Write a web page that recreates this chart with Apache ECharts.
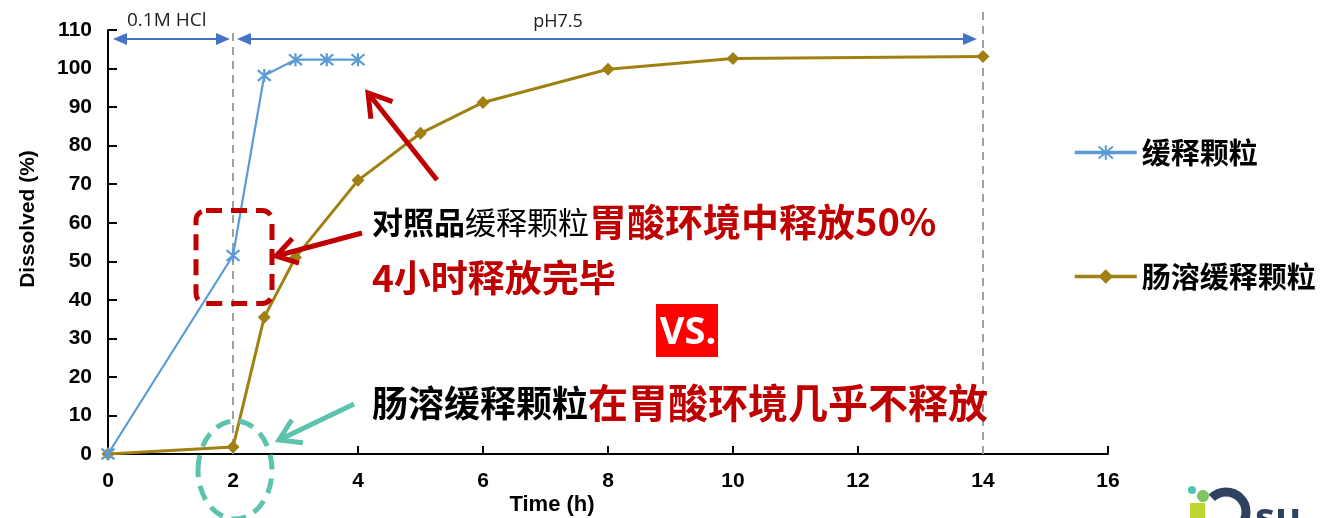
<!DOCTYPE html>
<html>
<head>
<meta charset="utf-8">
<script src="https://cdn.jsdelivr.net/npm/echarts@6/dist/echarts.min.js"></script>
<style>
html,body{margin:0;padding:0;background:#fff;}
#main{width:1322px;height:518px;}
</style>
</head>
<body>
<div id="main"></div>
<script>
// ---- data ----
const seriesNames = ['缓释颗粒', '肠溶缓释颗粒'];
const timeRef = [0, 2, 2.5, 3, 3.5, 4];
const dissolvedRef = [0, 51.5, 98.2, 102.3, 102.3, 102.3];
const timeEnteric = [0, 2, 2.5, 3, 4, 5, 6, 8, 10, 14];
const dissolvedEnteric = [0, 1.8, 35.5, 51, 71, 83.2, 91.2, 99.8, 102.6, 103.1];
const xTicks = [0, 2, 4, 6, 8, 10, 12, 14, 16];
const yTicks = [0, 10, 20, 30, 40, 50, 60, 70, 80, 90, 100, 110];
const phaseBoundaries = [2, 14];
const phaseLabels = ['0.1M HCl', 'pH7.5'];

const BLUE = '#5B9BD5', GOLD = '#A08010', RED = '#C00000', TEAL = '#5CC3AC', ARROW_BLUE = '#4472C4';
const CJK = '"Noto Sans CJK SC", sans-serif';
const LAT = '"Liberation Sans", Arial, sans-serif';

const chart = echarts.init(document.getElementById('main'), null, {renderer: 'canvas'});

const pair = (xs, ys) => xs.map((x, i) => [x, ys[i]]);

const legendCommon = {orient: 'vertical', itemWidth: 62, itemHeight: 18,
  lineStyle: {width: 3.5},
  textStyle: {fontFamily: CJK, fontWeight: 'bold', fontSize: 29, color: '#000'}};

const option = {
  animation: false,
  backgroundColor: '#fff',
  grid: {left: 108, right: 214, top: 30, bottom: 64, containLabel: false},
  xAxis: {
    type: 'value', min: xTicks[0], max: xTicks[xTicks.length - 1], interval: 2,
    axisLine: {show: true, onZero: false, lineStyle: {color: '#000', width: 2}},
    axisTick: {show: true, inside: true, length: 8, lineStyle: {color: '#000', width: 2}},
    splitLine: {show: false},
    axisLabel: {margin: 17, color: '#000', fontFamily: LAT, fontWeight: 'bold', fontSize: 21}
  },
  yAxis: {
    type: 'value', min: yTicks[0], max: yTicks[yTicks.length - 1], interval: 10,
    axisLine: {show: true, lineStyle: {color: '#000', width: 2}},
    axisTick: {show: true, inside: true, length: 9, lineStyle: {color: '#000', width: 2}},
    splitLine: {show: false},
    axisLabel: {margin: 16, color: '#000', fontFamily: LAT, fontWeight: 'bold', fontSize: 21}
  },
  legend: [
    Object.assign({data: [seriesNames[0]], left: 1068, top: 133}, legendCommon),
    Object.assign({data: [seriesNames[1]], left: 1068, top: 257}, legendCommon)
  ],
  series: [
    {
      name: seriesNames[0], type: 'line', data: pair(timeRef, dissolvedRef),
      symbol: 'path://M0,0L10,10M10,0L0,10M5,-1L5,11', symbolSize: 13,
      lineStyle: {color: BLUE, width: 2.2},
      itemStyle: {color: BLUE, borderColor: BLUE, borderWidth: 2.2},
      emphasis: {disabled: true}, z: 3
    },
    {
      name: seriesNames[1], type: 'line', data: pair(timeEnteric, dissolvedEnteric),
      symbol: 'diamond', symbolSize: 13,
      lineStyle: {color: GOLD, width: 3},
      itemStyle: {color: GOLD},
      emphasis: {disabled: true}, z: 2
    }
  ]
};
chart.setOption(option);

// ---- annotations ----
const px = (x, y) => chart.convertToPixel({gridIndex: 0}, [x, y]);

function chevronArrow(x1, y1, x2, y2, color, width, head, angDeg) {
  const ang = Math.atan2(y1 - y2, x1 - x2);
  const a = angDeg * Math.PI / 180;
  const p1 = [x2 + head * Math.cos(ang + a), y2 + head * Math.sin(ang + a)];
  const p2 = [x2 + head * Math.cos(ang - a), y2 + head * Math.sin(ang - a)];
  return [
    {type: 'line', shape: {x1, y1, x2, y2}, style: {stroke: color, lineWidth: width, lineCap: 'butt'}, z: 20},
    {type: 'polyline', shape: {points: [p1, [x2, y2], p2]}, style: {stroke: color, lineWidth: width, fill: null, lineJoin: 'miter'}, z: 20}
  ];
}
function triHead(tipX, y, dir, color) {
  const L = 14, W = 6;
  return {type: 'polygon', shape: {points: [[tipX, y], [tipX - dir * L, y - W], [tipX - dir * L, y + W]]}, style: {fill: color}, z: 20};
}

const p0 = px(0, 0);
const pB1 = px(phaseBoundaries[0], 0);
const pB2 = px(phaseBoundaries[1], 0);
const arrowY = 39;

const g = [];
// vertical dashed phase lines
g.push({type: 'line', shape: {x1: pB1[0], y1: 33, x2: pB1[0], y2: p0[1]}, style: {stroke: '#A0A0A0', lineWidth: 2, lineDash: [8, 6]}, z: 1});
g.push({type: 'line', shape: {x1: pB2[0], y1: 12, x2: pB2[0], y2: p0[1]}, style: {stroke: '#A0A0A0', lineWidth: 2, lineDash: [8, 6]}, z: 1});

// blue double arrows
const a1s = p0[0] + 5, a1e = pB1[0] - 3, a2s = pB1[0] + 4, a2e = pB2[0] - 6;
g.push({type: 'line', shape: {x1: a1s + 8, y1: arrowY, x2: a1e - 8, y2: arrowY}, style: {stroke: ARROW_BLUE, lineWidth: 2}, z: 20});
g.push(triHead(a1s, arrowY, -1, ARROW_BLUE), triHead(a1e, arrowY, 1, ARROW_BLUE));
g.push({type: 'line', shape: {x1: a2s + 8, y1: arrowY, x2: a2e - 8, y2: arrowY}, style: {stroke: ARROW_BLUE, lineWidth: 2}, z: 20});
g.push(triHead(a2s, arrowY, -1, ARROW_BLUE), triHead(a2e, arrowY, 1, ARROW_BLUE));
g.push({type: 'text', x: 127, y: 21, style: {text: phaseLabels[0], font: '19px "Open Sans", sans-serif', fill: '#222', textVerticalAlign: 'middle'}, z: 20});
g.push({type: 'text', x: 558, y: 22, style: {text: phaseLabels[1], font: '18px "Open Sans", sans-serif', fill: '#222', textAlign: 'center', textVerticalAlign: 'middle'}, z: 20});

// axis names
g.push({type: 'text', x: 28, y: 219, rotation: Math.PI / 2, style: {text: 'Dissolved (%)', font: 'bold 21px ' + LAT, fill: '#000', textAlign: 'center', textVerticalAlign: 'middle'}, z: 20});
g.push({type: 'text', x: 552, y: 505, style: {text: 'Time (h)', font: 'bold 22px ' + LAT, fill: '#000', textAlign: 'center', textVerticalAlign: 'middle'}, z: 20});

// red dashed rounded box around 2h point of reference
const pRef2 = px(timeRef[1], dissolvedRef[1]);
g.push({type: 'rect', shape: {x: pRef2[0] - 37, y: pRef2[1] - 45, width: 76, height: 93, r: 10}, style: {stroke: RED, lineWidth: 5, lineDash: [16, 9], fill: null}, z: 15});
// teal dashed ellipse around 2h point of enteric
const pEnt2 = px(timeEnteric[1], 0);
g.push({type: 'ellipse', shape: {cx: pEnt2[0] + 2, cy: 470, rx: 37, ry: 49}, style: {stroke: TEAL, lineWidth: 5, lineDash: [15, 9], fill: null}, z: 15});

// arrows
g.push(...chevronArrow(437, 180, 368, 93, RED, 5, 26, 32));
g.push(...chevronArrow(362, 233, 276, 256, RED, 5, 24, 32));
g.push(...chevronArrow(354, 404, 279, 440, TEAL, 5, 24, 32));

// annotation texts
g.push({type: 'text', x: 372, y: 222, style: {
  text: '{a|对照品}{b|缓释颗粒}{c|胃酸环境中释放50%}',
  textVerticalAlign: 'middle',
  rich: {
    a: {fontFamily: CJK, fontWeight: 'bold', fontSize: 31, fill: '#000'},
    b: {fontFamily: CJK, fontWeight: 'normal', fontSize: 31, fill: '#000'},
    c: {fontFamily: CJK, fontWeight: 'bold', fontSize: 38, fill: RED}
  }
}, z: 20});
g.push({type: 'text', x: 372, y: 278, style: {text: '4小时释放完毕', font: 'bold 37px ' + CJK, fill: RED, textVerticalAlign: 'middle'}, z: 20});
g.push({type: 'text', x: 372, y: 403, style: {
  text: '{a|肠溶缓释颗粒}{c|在胃酸环境几乎不释放}',
  textVerticalAlign: 'middle',
  rich: {
    a: {fontFamily: CJK, fontWeight: 'bold', fontSize: 36, fill: '#000'},
    c: {fontFamily: CJK, fontWeight: 'bold', fontSize: 40, fill: RED}
  }
}, z: 20});

// VS box
g.push({type: 'rect', shape: {x: 656, y: 304, width: 62, height: 53}, style: {fill: '#FF0000'}, z: 20});
g.push({type: 'text', x: 688, y: 333, style: {text: 'VS.', font: 'bold 38px "Open Sans", sans-serif', fill: '#fff', textAlign: 'center', textVerticalAlign: 'middle'}, z: 21});

// partial logo bottom-right
g.push({type: 'circle', shape: {cx: 1192, cy: 490, r: 4}, style: {fill: '#4EC3B5'}, z: 20});
g.push({type: 'ellipse', shape: {cx: 1203, cy: 496, rx: 6, ry: 6}, style: {fill: '#7DC462'}, z: 20});
g.push({type: 'rect', shape: {x: 1190, y: 503, width: 15, height: 16}, style: {fill: '#BFD630'}, z: 20});
g.push({type: 'arc', shape: {cx: 1226, cy: 512, r: 20, startAngle: -Math.PI * 0.75, endAngle: Math.PI * 0.5}, style: {stroke: '#2E4260', lineWidth: 9, fill: null}, z: 20});
g.push({type: 'text', x: 1255, y: 500, style: {text: 'su', font: 'bold 40px "Open Sans", sans-serif', fill: '#2E4260'}, z: 20});

chart.setOption({graphic: {elements: g}});
</script>
</body>
</html>
